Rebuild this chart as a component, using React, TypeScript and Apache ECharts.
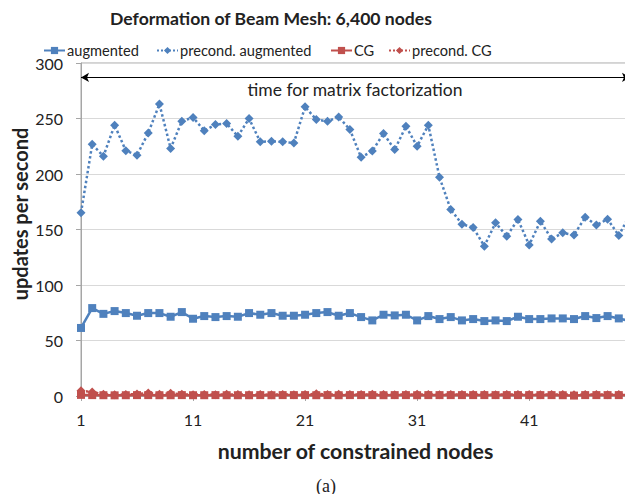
import React, { useEffect, useRef } from "react";
import * as echarts from "echarts";

const categories: string[] = Array.from({ length: 50 }, (_, i) => String(i + 1));

const augmented: number[] = [
  61.3, 79.2, 74, 76.5, 74.7, 72.3, 74.7, 74.7, 71.4, 75.6,
  69.6, 72, 71.1, 72, 71.4, 74.7, 73.2, 74.7, 72.3, 72.3,
  73.2, 74.7, 75.6, 72.3, 74.7, 71.1, 68.1, 73.2, 72.6, 73.2,
  68.1, 72, 69.3, 71.1, 68.1, 69.3, 67.5, 68.1, 67.5, 71.4,
  69.3, 69.3, 69.9, 69.9, 69.3, 72, 70.2, 72, 69.9, 67.5,
];

const precondAugmented: number[] = [
  165, 226.7, 216, 244, 221, 217, 237, 263, 223, 247.5,
  251, 239, 244.5, 245.4, 234, 250, 229, 229.4, 229, 228,
  260.5, 249, 247.5, 251.4, 240, 215, 220.7, 236.4, 222, 243,
  225, 244, 197, 168, 154.8, 151.8, 135, 156, 144, 159,
  136, 157.5, 141.5, 147, 145, 161, 154, 159.3, 144.6, 163.5,
];

const cg: number[] = [
  1.0, 0.8, 0.7, 0.6, 0.7, 0.8, 0.8, 0.7, 0.7, 0.8,
  0.7, 0.7, 0.8, 0.7, 0.7, 0.7, 0.8, 0.7, 0.8, 0.8,
  0.8, 0.7, 0.8, 0.7, 0.8, 0.8, 0.8, 0.7, 0.8, 0.8,
  0.7, 0.8, 0.8, 0.8, 0.8, 0.8, 0.8, 0.8, 0.8, 0.8,
  0.8, 0.8, 0.8, 0.7, 0.4, 0.8, 0.8, 0.8, 0.8, 0.8,
];

const precondCG: number[] = [
  4.8, 3.5, 1.5, 1.2, 1.3, 1.8, 2.6, 1.6, 2.4, 1.5,
  1.2, 1.4, 1.2, 1.5, 1.3, 1.2, 1.3, 1.2, 1.4, 1.2,
  1.3, 2.0, 1.3, 1.5, 1.4, 1.3, 1.5, 1.3, 1.2, 1.4,
  1.5, 1.3, 1.2, 1.3, 1.4, 1.3, 1.4, 1.2, 1.3, 1.4,
  1.3, 1.2, 1.4, 1.3, 1.2, 1.3, 1.4, 1.2, 1.3, 1.2,
];

const seriesNames = ["augmented", "precond. augmented", "CG", "precond. CG"];
const annotationText = "time for matrix factorization";
const annotationLevel = 287;
const titleText = "Deformation of Beam Mesh: 6,400 nodes";
const xAxisTitle = "number of constrained nodes";
const yAxisTitle = "updates per second";
const caption = "(a)";

const BLUE = "#4F81BD";
const RED = "#C0504D";
const FONT = "Lato, 'Open Sans', sans-serif";
const legendLefts = [43, 156, 330, 388];

export default function App() {
  const ref = useRef<HTMLDivElement>(null);
  useEffect(() => {
    if (!ref.current) return;
    const chart = echarts.init(ref.current, undefined, { renderer: "svg" });
    chart.setOption({
      animation: false,
      backgroundColor: "#fff",
      textStyle: { fontFamily: FONT },
      title: {
        text: titleText,
        left: 266,
        textAlign: "center",
        top: 4,
        textStyle: { fontFamily: FONT, fontWeight: "bold", fontSize: 17.6, color: "#222" },
      },
      legend: seriesNames.map((n, i) => ({
        data: [n],
        left: legendLefts[i],
        top: 43,
        padding: 0,
        itemWidth: 21,
        itemHeight: 9,
        textStyle: { fontFamily: FONT, fontSize: 14.6, color: "#222", padding: [0, 0, 0, -3] },
      })),
      grid: {
        left: 81,
        right: 3,
        top: 63,
        bottom: 106,
        show: true,
        borderColor: "#A6A6A6",
        borderWidth: 1,
      },
      xAxis: {
        type: "category",
        data: categories,
        boundaryGap: false,
        name: xAxisTitle,
        nameLocation: "middle",
        nameGap: 44,
        nameTextStyle: { fontFamily: FONT, fontWeight: "bold", fontSize: 21.3, color: "#222" },
        axisLine: { lineStyle: { color: "#A6A6A6" } },
        axisTick: { show: true, interval: 9, length: 5, lineStyle: { color: "#A6A6A6" } },
        axisLabel: { interval: 9, margin: 15, fontSize: 16, color: "#222", fontFamily: FONT },
        splitLine: { show: false },
      },
      yAxis: {
        type: "value",
        min: 0,
        max: 300,
        interval: 50,
        axisLine: { show: true, lineStyle: { color: "#A6A6A6" } },
        axisTick: { show: true, length: 5, lineStyle: { color: "#A6A6A6" } },
        axisLabel: { margin: 18, fontSize: 16, color: "#222", fontFamily: FONT },
        splitLine: { lineStyle: { color: "#D9D9D9", width: 1 } },
      },
      graphic: [
        {
          type: "text",
          x: 20,
          y: 214,
          rotation: Math.PI / 2,
          style: {
            text: yAxisTitle,
            fontFamily: FONT,
            fontWeight: "bold",
            fontSize: 20,
            fill: "#222",
            textAlign: "center",
            textVerticalAlign: "middle",
          },
        },
        {
          type: "text",
          x: 355,
          y: 89,
          style: {
            text: annotationText,
            fontFamily: FONT,
            fontSize: 17.5,
            fill: "#222",
            textAlign: "center",
            textVerticalAlign: "middle",
          },
        },
        {
          type: "text",
          x: 326,
          y: 486,
          style: {
            text: caption,
            fontFamily: "'Liberation Serif', 'Times New Roman', serif",
            fontSize: 18,
            fill: "#222",
            textAlign: "center",
            textVerticalAlign: "middle",
          },
        },
      ],
      series: [
        {
          name: seriesNames[0],
          type: "line",
          data: augmented,
          symbol: "rect",
          symbolSize: 8,
          showAllSymbol: true,
          itemStyle: { color: BLUE },
          lineStyle: { color: BLUE, width: 2.5 },
          z: 3,
          markLine: {
            silent: true,
            symbol: ["arrow", "arrow"],
            symbolSize: [7, 8],
            label: { show: false },
            lineStyle: { color: "#000", width: 1, type: "solid" },
            data: [
              [
                { coord: [categories[0], annotationLevel] },
                { coord: [categories[categories.length - 1], annotationLevel] },
              ],
            ],
          },
        },
        {
          name: seriesNames[1],
          type: "line",
          data: precondAugmented,
          symbol: "diamond",
          symbolSize: 9,
          showAllSymbol: true,
          itemStyle: { color: BLUE },
          lineStyle: { color: BLUE, width: 2.5, type: "dotted" },
          z: 2,
        },
        {
          name: seriesNames[2],
          type: "line",
          data: cg,
          symbol: "rect",
          symbolSize: 8,
          showAllSymbol: true,
          itemStyle: { color: RED },
          lineStyle: { color: RED, width: 2.5 },
          z: 5,
        },
        {
          name: seriesNames[3],
          type: "line",
          data: precondCG,
          symbol: "diamond",
          symbolSize: 9,
          showAllSymbol: true,
          itemStyle: { color: RED },
          lineStyle: { color: RED, width: 2.5, type: "dotted" },
          z: 4,
        },
      ],
    });
    return () => chart.dispose();
  }, []);
  return <div ref={ref} style={{ width: 633, height: 502, margin: -8 }} />;
}
